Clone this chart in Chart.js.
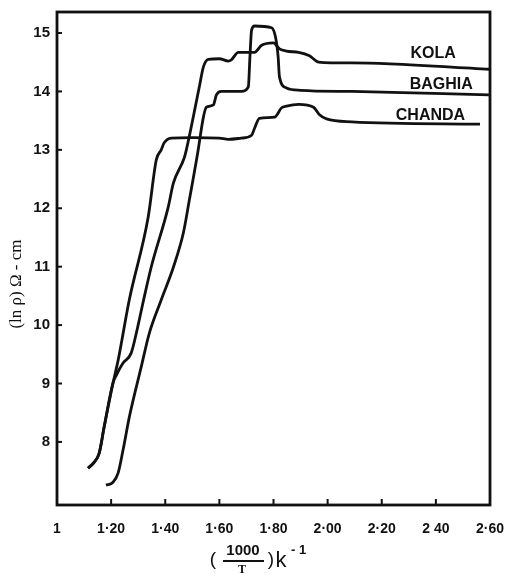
<!DOCTYPE html>
<html>
<head>
<meta charset="utf-8">
<script src="https://cdn.jsdelivr.net/npm/chart.js@4.4.1/dist/chart.umd.min.js"></script>
<style>
  html, body { margin: 0; padding: 0; background: #fff; }
  #wrap { width: 505px; height: 578px; }
</style>
</head>
<body>
<div id="wrap"><canvas id="c" width="505" height="578"></canvas></div>
<script>
// ---- data ----
const seriesNames = ["KOLA", "BAGHIA", "CHANDA"];

const kolaX = [1.115, 1.137, 1.156, 1.174, 1.207, 1.219, 1.244, 1.274, 1.293, 1.320, 1.348, 1.411, 1.430, 1.470, 1.478, 1.526, 1.541, 1.559, 1.600, 1.633, 1.644, 1.670, 1.730, 1.756, 1.800, 1.822, 1.848, 1.893, 1.933, 1.967, 2.015, 2.089, 2.600];
const kolaY = [7.55, 7.65, 7.81, 8.25, 9.01, 9.14, 9.35, 9.52, 9.86, 10.43, 10.99, 12.02, 12.43, 12.86, 13.00, 14.08, 14.42, 14.55, 14.56, 14.52, 14.54, 14.67, 14.67, 14.79, 14.83, 14.73, 14.69, 14.67, 14.61, 14.50, 14.49, 14.49, 14.38];

const baghiaX = [1.181, 1.207, 1.226, 1.244, 1.267, 1.311, 1.341, 1.385, 1.430, 1.467, 1.489, 1.520, 1.541, 1.552, 1.578, 1.589, 1.607, 1.681, 1.707, 1.713, 1.719, 1.730, 1.793, 1.807, 1.817, 1.822, 1.848, 1.900, 2.089, 2.596];
const baghiaY = [7.26, 7.31, 7.47, 7.86, 8.42, 9.28, 9.86, 10.43, 10.99, 11.58, 12.14, 12.95, 13.56, 13.73, 13.77, 13.94, 14.00, 14.00, 14.08, 14.60, 15.05, 15.12, 15.09, 14.94, 14.60, 14.25, 14.06, 14.02, 14.00, 13.94];

const chandaX = [1.115, 1.137, 1.156, 1.174, 1.207, 1.226, 1.267, 1.337, 1.367, 1.385, 1.396, 1.422, 1.500, 1.600, 1.633, 1.680, 1.719, 1.730, 1.748, 1.804, 1.830, 1.848, 1.893, 1.948, 1.970, 1.996, 2.089, 2.563];
const chandaY = [7.55, 7.65, 7.81, 8.25, 9.01, 9.40, 10.43, 11.85, 12.83, 13.00, 13.12, 13.20, 13.21, 13.20, 13.18, 13.20, 13.25, 13.37, 13.54, 13.56, 13.72, 13.75, 13.78, 13.73, 13.60, 13.53, 13.48, 13.44];

const xTickValues = [1.0, 1.2, 1.4, 1.6, 1.8, 2.0, 2.2, 2.4, 2.6];
const xTickLabels = ["1", "1·20", "1·40", "1·60", "1·80", "2·00", "2·20", "2 40", "2·60"];
const yTickValues = [8, 9, 10, 11, 12, 13, 14, 15];
const yTickLabels = ["8", "9", "10", "11", "12", "13", "14", "15"];

const yTitle = "(ln ρ) Ω - cm";
// -------------------------------------

const toPts = (xs, ys) => xs.map((x, i) => ({ x: x, y: ys[i] }));
const seriesData = [toPts(kolaX, kolaY), toPts(baghiaX, baghiaY), toPts(chandaX, chandaY)];

const INK = '#111';
Chart.defaults.font.family = 'Liberation Sans, Arial, sans-serif';
Chart.defaults.color = INK;

const decor = {
  id: 'decor',
  afterDatasetsDraw(chart) {
    const ctx = chart.ctx;
    const a = chart.chartArea;
    const xs = chart.scales.x, ys = chart.scales.y;
    ctx.save();
    // frame
    ctx.strokeStyle = INK;
    ctx.lineWidth = 2.8;
    ctx.strokeRect(a.left, a.top, a.right - a.left, a.bottom - a.top);
    // inward tick marks
    ctx.lineWidth = 2;
    xTickValues.forEach(v => {
      const px = xs.getPixelForValue(v);
      if (px <= a.left + 2 || px >= a.right - 2) return;
      ctx.beginPath(); ctx.moveTo(px, a.bottom); ctx.lineTo(px, a.bottom - 6); ctx.stroke();
    });
    yTickValues.forEach(v => {
      const py = ys.getPixelForValue(v);
      ctx.beginPath(); ctx.moveTo(a.left, py); ctx.lineTo(a.left + 5, py); ctx.stroke();
    });
    // series labels, anchored near the right end of each curve
    ctx.fillStyle = INK;
    ctx.font = 'bold 16px Liberation Sans, Arial, sans-serif';
    ctx.textAlign = 'center';
    ctx.textBaseline = 'middle';
    const labelAnchors = [
      { x: 2.39, dy: -16 },
      { x: 2.42, dy: -10 },
      { x: 2.38, dy: -9 }
    ];
    seriesData.forEach((pts, i) => {
      const last = pts[pts.length - 1];
      const px = xs.getPixelForValue(labelAnchors[i].x);
      const py = ys.getPixelForValue(last.y) + labelAnchors[i].dy;
      ctx.fillText(seriesNames[i], px, py);
    });
    // y title
    ctx.save();
    ctx.translate(17, 284);
    ctx.rotate(-Math.PI / 2);
    ctx.font = '17px Liberation Serif, DejaVu Serif, serif';
    ctx.textAlign = 'center';
    ctx.textBaseline = 'middle';
    ctx.fillText(yTitle, 0, 0);
    ctx.restore();
    // x title: ( 1000 / T ) k^-1
    ctx.textBaseline = 'middle';
    ctx.textAlign = 'center';
    ctx.font = '19px Liberation Sans, Arial, sans-serif';
    ctx.fillText('(', 213, 560);
    ctx.font = 'bold 15px Liberation Sans, Arial, sans-serif';
    ctx.fillText('1000', 243, 551);
    ctx.lineWidth = 1.8;
    ctx.beginPath(); ctx.moveTo(223, 561); ctx.lineTo(264, 561); ctx.stroke();
    ctx.font = 'bold 12px Liberation Serif, serif';
    ctx.fillText('T', 242, 570);
    ctx.font = '19px Liberation Sans, Arial, sans-serif';
    ctx.fillText(')', 271, 560);
    ctx.font = '22px Liberation Sans, Arial, sans-serif';
    ctx.fillText('k', 281, 561);
    ctx.font = 'bold 13px Liberation Sans, Arial, sans-serif';
    ctx.textAlign = 'left';
    ctx.fillText('- 1', 291, 550);
    ctx.restore();
  }
};

new Chart(document.getElementById('c'), {
  type: 'line',
  data: {
    datasets: seriesNames.map((name, i) => ({
      label: name,
      data: seriesData[i],
      borderColor: INK,
      borderWidth: 2.8,
      pointRadius: 0,
      fill: false,
      cubicInterpolationMode: 'monotone'
    }))
  },
  options: {
    responsive: false,
    animation: false,
    layout: { padding: { left: 0, top: 12, right: 15, bottom: 0 } },
    plugins: { legend: { display: false }, tooltip: { enabled: false } },
    scales: {
      x: {
        type: 'linear',
        min: 1.0, max: 2.6,
        grid: { display: false, drawTicks: false },
        border: { display: false },
        afterBuildTicks: s => { s.ticks = xTickValues.map(v => ({ value: v })); },
        afterFit: s => { s.height = 73; s.paddingLeft = 0; s.paddingRight = 0; },
        ticks: {
          padding: 16,
          autoSkip: false,
          maxRotation: 0,
          font: { size: 14, weight: 'bold' },
          color: INK,
          callback: (v) => { const i = xTickValues.findIndex(t => Math.abs(t - v) < 1e-6); return i >= 0 ? xTickLabels[i] : ''; }
        }
      },
      y: {
        type: 'linear',
        min: 6.92, max: 15.36,
        grid: { display: false, drawTicks: false },
        border: { display: false },
        afterBuildTicks: s => { s.ticks = yTickValues.map(v => ({ value: v })); },
        afterFit: s => { s.width = 57; s.paddingTop = 0; s.paddingBottom = 0; },
        ticks: {
          padding: 7,
          autoSkip: false,
          font: { size: 15, weight: 'bold' },
          color: INK,
          callback: (v) => { const i = yTickValues.indexOf(v); return i >= 0 ? yTickLabels[i] : ''; }
        }
      }
    }
  },
  plugins: [decor]
});
</script>
</body>
</html>
